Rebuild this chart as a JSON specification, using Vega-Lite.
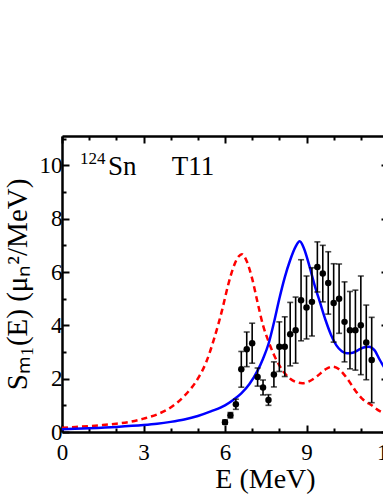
{
  "$schema": "https://vega.github.io/schema/vega-lite/v6.json",
  "autosize": {"type": "none"},
  "width": 326,
  "height": 296,
  "padding": {"left": 62, "top": 136, "right": -5, "bottom": 64},
  "background": "white",
  "config": {
    "view": {"stroke": null},
    "font": "Liberation Serif",
    "axis": {
      "grid": false,
      "domainColor": "black",
      "domainWidth": 2.5,
      "tickColor": "black",
      "tickWidth": 2,
      "labelFont": "Liberation Serif",
      "labelFontSize": 23,
      "labelColor": "black",
      "titleFont": "Liberation Serif",
      "titleFontSize": 28,
      "titleFontWeight": "normal",
      "titleColor": "black"
    }
  },
  "datasets": {
    "blue": [
      {"E": 0, "S": 0.1}, {"E": 1, "S": 0.14}, {"E": 2, "S": 0.19}, {"E": 3, "S": 0.26},
      {"E": 3.5, "S": 0.31}, {"E": 4, "S": 0.38}, {"E": 4.5, "S": 0.47}, {"E": 5, "S": 0.6},
      {"E": 5.5, "S": 0.78}, {"E": 6.0, "S": 1.0}, {"E": 6.3, "S": 1.2}, {"E": 6.6, "S": 1.45},
      {"E": 6.9, "S": 1.8}, {"E": 7.2, "S": 2.3}, {"E": 7.4, "S": 2.75}, {"E": 7.6, "S": 3.3},
      {"E": 7.8, "S": 4.1}, {"E": 8.0, "S": 5.0}, {"E": 8.2, "S": 5.8}, {"E": 8.4, "S": 6.45},
      {"E": 8.6, "S": 6.95}, {"E": 8.75, "S": 7.15}, {"E": 8.9, "S": 6.9}, {"E": 9.1, "S": 6.25},
      {"E": 9.3, "S": 5.5}, {"E": 9.5, "S": 4.85}, {"E": 9.7, "S": 4.2}, {"E": 9.9, "S": 3.65},
      {"E": 10.1, "S": 3.25}, {"E": 10.3, "S": 3.03}, {"E": 10.5, "S": 2.95}, {"E": 10.7, "S": 2.97},
      {"E": 10.9, "S": 3.07}, {"E": 11.1, "S": 3.17}, {"E": 11.3, "S": 3.2}, {"E": 11.5, "S": 3.07},
      {"E": 11.7, "S": 2.7}, {"E": 11.9, "S": 2.35}, {"E": 12, "S": 2.15}
    ],
    "red": [
      {"E": 0, "S": 0.16}, {"E": 0.5, "S": 0.19}, {"E": 1, "S": 0.22}, {"E": 1.5, "S": 0.26},
      {"E": 2, "S": 0.31}, {"E": 2.5, "S": 0.38}, {"E": 3, "S": 0.5}, {"E": 3.5, "S": 0.66},
      {"E": 4, "S": 0.92}, {"E": 4.5, "S": 1.35}, {"E": 5.0, "S": 2.0}, {"E": 5.3, "S": 2.6},
      {"E": 5.6, "S": 3.5}, {"E": 5.9, "S": 4.6}, {"E": 6.1, "S": 5.45}, {"E": 6.3, "S": 6.15},
      {"E": 6.5, "S": 6.58}, {"E": 6.62, "S": 6.67}, {"E": 6.8, "S": 6.4}, {"E": 7.0, "S": 5.75},
      {"E": 7.2, "S": 4.85}, {"E": 7.4, "S": 4.0}, {"E": 7.6, "S": 3.4}, {"E": 7.8, "S": 2.9},
      {"E": 8.0, "S": 2.5}, {"E": 8.2, "S": 2.2}, {"E": 8.4, "S": 2.0}, {"E": 8.6, "S": 1.88},
      {"E": 8.85, "S": 1.83}, {"E": 9.1, "S": 1.9}, {"E": 9.4, "S": 2.1}, {"E": 9.7, "S": 2.35},
      {"E": 9.95, "S": 2.45}, {"E": 10.2, "S": 2.35}, {"E": 10.5, "S": 2.0}, {"E": 10.8, "S": 1.55},
      {"E": 11.1, "S": 1.2}, {"E": 11.4, "S": 1.0}, {"E": 11.7, "S": 0.78}, {"E": 12, "S": 0.65}
    ],
    "exp": [
      {"E": 6.0, "S": 0.37, "lo": 0.29, "hi": 0.45},
      {"E": 6.2, "S": 0.63, "lo": 0.53, "hi": 0.73},
      {"E": 6.4, "S": 1.04, "lo": 0.85, "hi": 1.23},
      {"E": 6.6, "S": 2.35, "lo": 1.68, "hi": 3.02},
      {"E": 6.8, "S": 3.1, "lo": 2.45, "hi": 3.75},
      {"E": 7.0, "S": 3.33, "lo": 2.58, "hi": 4.08},
      {"E": 7.2, "S": 2.06, "lo": 1.72, "hi": 2.4},
      {"E": 7.4, "S": 1.67, "lo": 1.39, "hi": 1.95},
      {"E": 7.6, "S": 1.2, "lo": 1.0, "hi": 1.4},
      {"E": 7.8, "S": 2.16, "lo": 1.69, "hi": 2.63},
      {"E": 8.0, "S": 3.2, "lo": 2.27, "hi": 4.13},
      {"E": 8.2, "S": 3.2, "lo": 2.08, "hi": 4.32},
      {"E": 8.4, "S": 3.67, "lo": 2.48, "hi": 4.86},
      {"E": 8.6, "S": 3.82, "lo": 2.58, "hi": 5.06},
      {"E": 8.8, "S": 4.94, "lo": 3.42, "hi": 6.46},
      {"E": 9.0, "S": 4.67, "lo": 3.49, "hi": 5.85},
      {"E": 9.2, "S": 4.88, "lo": 3.6, "hi": 6.16},
      {"E": 9.4, "S": 6.19, "lo": 5.25, "hi": 7.13},
      {"E": 9.6, "S": 5.94, "lo": 4.88, "hi": 7.0},
      {"E": 9.8, "S": 5.59, "lo": 4.42, "hi": 6.76},
      {"E": 10.0, "S": 4.84, "lo": 3.37, "hi": 6.31},
      {"E": 10.2, "S": 5.0, "lo": 3.7, "hi": 6.3},
      {"E": 10.4, "S": 4.13, "lo": 2.63, "hi": 5.63},
      {"E": 10.6, "S": 3.82, "lo": 2.37, "hi": 5.27},
      {"E": 10.8, "S": 3.82, "lo": 2.32, "hi": 5.32},
      {"E": 11.0, "S": 4.0, "lo": 2.15, "hi": 5.85},
      {"E": 11.2, "S": 3.36, "lo": 1.96, "hi": 4.76},
      {"E": 11.4, "S": 2.7, "lo": 1.1, "hi": 4.3}
    ]
  },
  "layer": [
    {
      "data": {"name": "red"},
      "mark": {"type": "line", "color": "#ff0000", "strokeWidth": 2.5, "strokeDash": [6, 4], "interpolate": "monotone"},
      "encoding": {
        "x": {"field": "E", "type": "quantitative", "scale": {"domain": [0, 12], "nice": false, "zero": false},
          "axis": {"orient": "top", "values": [0,1,2,3,4,5,6,7,8,9,10,11,12], "labels": false, "title": null,
            "tickSize": {"condition": {"test": "datum.value % 3 === 0", "value": -7}, "value": -4}}},
        "y": {"field": "S", "type": "quantitative", "scale": {"domain": [0, 11.1], "nice": false, "zero": false},
          "axis": {"orient": "right", "values": [0,1,2,3,4,5,6,7,8,9,10,11], "labels": false, "title": null,
            "tickSize": {"condition": {"test": "datum.value % 2 === 0", "value": -7}, "value": -4}}}
      }
    },
    {
      "data": {"name": "blue"},
      "mark": {"type": "line", "color": "#0000ff", "strokeWidth": 2.5, "interpolate": "monotone"},
      "encoding": {
        "x": {"field": "E", "type": "quantitative", "scale": {"domain": [0, 12], "nice": false, "zero": false},
          "axis": {"orient": "bottom", "values": [0,1,2,3,4,5,6,7,8,9,10,11,12],
            "tickSize": {"condition": {"test": "datum.value % 3 === 0", "value": -7}, "value": -4},
            "labelExpr": "datum.value % 3 === 0 ? datum.label : ''",
            "labelBaseline": "alphabetic", "labelPadding": 34, "labelFlush": false, "labelOverlap": false,
            "title": "E (MeV)", "titleX": 203, "titleY": 55, "titleBaseline": "alphabetic", "titleAlign": "center"}},
        "y": {"field": "S", "type": "quantitative", "scale": {"domain": [0, 11.1], "nice": false, "zero": false},
          "axis": {"orient": "left", "values": [0,1,2,3,4,5,6,7,8,9,10,11],
            "tickSize": {"condition": {"test": "datum.value % 2 === 0", "value": -7}, "value": -4},
            "labelExpr": "datum.value % 2 === 0 ? datum.label : ''",
            "labelPadding": 7, "labelFlush": false, "labelOverlap": false,
            "title": "Sₘ₁(E) (μₙ²/MeV)", "titleX": -36, "titleY": 148, "titleAngle": 270,
            "titleBaseline": "alphabetic", "titleAlign": "center", "titleFontSize": 29}}
      }
    },
    {
      "data": {"name": "exp"},
      "mark": {"type": "rule", "color": "black", "strokeWidth": 1.6},
      "encoding": {
        "x": {"field": "E", "type": "quantitative", "axis": null},
        "y": {"field": "lo", "type": "quantitative", "axis": null},
        "y2": {"field": "hi"}
      }
    },
    {
      "data": {"name": "exp"},
      "mark": {"type": "tick", "color": "black", "orient": "horizontal", "size": 6, "thickness": 1.6},
      "encoding": {
        "x": {"field": "E", "type": "quantitative", "axis": null},
        "y": {"field": "lo", "type": "quantitative", "axis": null}
      }
    },
    {
      "data": {"name": "exp"},
      "mark": {"type": "tick", "color": "black", "orient": "horizontal", "size": 6, "thickness": 1.6},
      "encoding": {
        "x": {"field": "E", "type": "quantitative", "axis": null},
        "y": {"field": "hi", "type": "quantitative", "axis": null}
      }
    },
    {
      "data": {"name": "exp"},
      "mark": {"type": "circle", "color": "black", "opacity": 1, "size": 42},
      "encoding": {
        "x": {"field": "E", "type": "quantitative", "axis": null},
        "y": {"field": "S", "type": "quantitative", "axis": null}
      }
    },
    {
      "data": {"values": [{"t": "124", "E": 0.66, "S": 10.06}]},
      "mark": {"type": "text", "font": "Liberation Serif", "fontSize": 17, "align": "left", "baseline": "alphabetic", "color": "black"},
      "encoding": {
        "x": {"field": "E", "type": "quantitative", "axis": null},
        "y": {"field": "S", "type": "quantitative", "axis": null},
        "text": {"field": "t"}
      }
    },
    {
      "data": {"values": [{"t": "Sn", "E": 1.69, "S": 9.63}, {"t": "T11", "E": 4.04, "S": 9.63}]},
      "mark": {"type": "text", "font": "Liberation Serif", "fontSize": 27, "align": "left", "baseline": "alphabetic", "color": "black"},
      "encoding": {
        "x": {"field": "E", "type": "quantitative", "axis": null},
        "y": {"field": "S", "type": "quantitative", "axis": null},
        "text": {"field": "t"}
      }
    }
  ],
  "resolve": {"axis": {"x": "independent", "y": "independent"}}
}
